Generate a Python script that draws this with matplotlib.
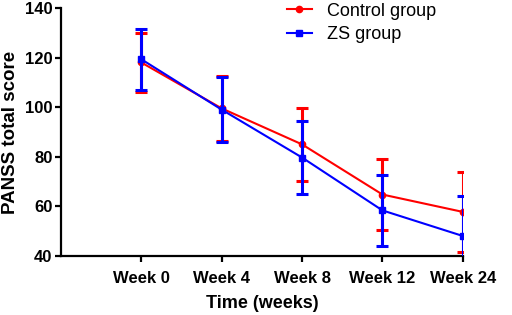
import numpy as np
import matplotlib.pyplot as plt
from matplotlib.lines import Line2D

plt.rcParams['font.family'] = ['Liberation Sans', 'DejaVu Sans']

weeks = ['Week 0', 'Week 4', 'Week 8', 'Week 12', 'Week 24']
control_mean = [118.0, 99.5, 85.0, 64.8, 57.8]
control_sd = [12.0, 13.0, 14.6, 14.2, 16.0]
zs_mean = [119.3, 99.0, 79.7, 58.4, 48.1]
zs_sd = [12.2, 13.0, 14.7, 14.3, 16.0]

x = np.arange(1, len(weeks) + 1)

fig = plt.figure(figsize=(5.12, 3.15), dpi=100)
ax = fig.add_axes([0.119, 0.187, 0.785, 0.788])

ax.errorbar(x, control_mean, yerr=control_sd, color='#ff0000', marker='o', markersize=4.5,
            linewidth=1.5, elinewidth=2.2, capsize=4, capthick=2.2, zorder=2)
ax.errorbar(x, zs_mean, yerr=zs_sd, color='#0000ff', marker='s', markersize=5,
            linewidth=1.5, elinewidth=2.2, capsize=4, capthick=2.2, zorder=3)

ax.set_xlim(0, 5)
ax.set_ylim(40, 140)
ax.set_yticks([40, 60, 80, 100, 120, 140])
ax.set_xticks(x)
ax.set_xticklabels(weeks)

for s in ['top', 'right']:
    ax.spines[s].set_visible(False)
for s in ['left', 'bottom']:
    ax.spines[s].set_linewidth(1.6)
ax.tick_params(direction='out', length=4.5, width=1.6, labelsize=12)
ax.tick_params(axis='y', pad=1.5)
ax.tick_params(axis='x', pad=6)
for lab in ax.get_xticklabels() + ax.get_yticklabels():
    lab.set_fontweight('bold')

ax.set_xlabel('Time (weeks)', fontsize=13, fontweight='bold', labelpad=7)
ax.set_ylabel('PANSS total score', fontsize=13.5, fontweight='bold', labelpad=4)

handles = [Line2D([], [], color='#ff0000', marker='o', markersize=4.5, linewidth=1.5),
           Line2D([], [], color='#0000ff', marker='s', markersize=5, linewidth=1.5)]
ax.legend(handles, ['Control group', 'ZS group'], loc='upper left', bbox_to_anchor=(0.535, 1.065),
          frameon=False, fontsize=13, handlelength=1.4, handletextpad=0.8, labelspacing=0.35,
          borderpad=0.1)

fig.savefig('out.png', dpi=100)
